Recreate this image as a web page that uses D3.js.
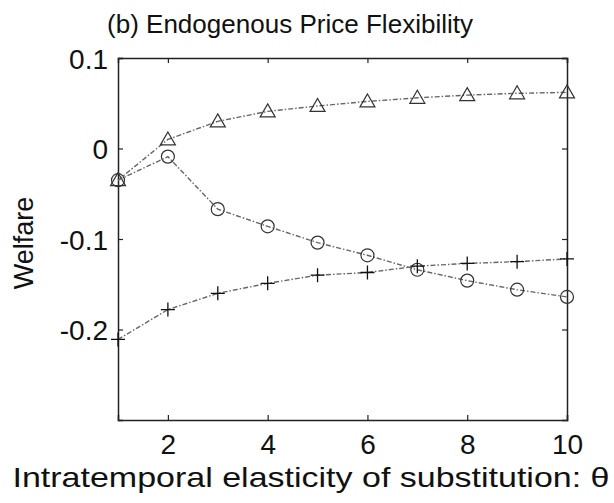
<!DOCTYPE html>
<html>
<head>
<meta charset="utf-8">
<script src="https://cdn.jsdelivr.net/npm/d3@7"></script>
<style>
  html, body { margin: 0; padding: 0; background: #fff; }
  svg { display: block; }
  text { font-family: "Liberation Sans", Arial, sans-serif; fill: #111; }
</style>
</head>
<body>
<svg id="chart" width="614" height="503"></svg>
<script>
// Welfare against the intratemporal elasticity of substitution (theta)
const theta = [1, 2, 3, 4, 5, 6, 7, 8, 9, 10];
const welfareTriangle = [-0.035, 0.010, 0.030, 0.041, 0.047, 0.052, 0.056, 0.059, 0.061, 0.062];
const welfareCircle   = [-0.035, -0.009, -0.067, -0.086, -0.104, -0.118, -0.134, -0.146, -0.156, -0.164];
const welfarePlus     = [-0.211, -0.178, -0.160, -0.149, -0.140, -0.137, -0.130, -0.127, -0.125, -0.122];
const xTicks = [2, 4, 6, 8, 10];
const yTicks = [-0.2, -0.1, 0, 0.1];
const yTickLabels = ["-0.2", "-0.1", "0", "0.1"];

const svg = d3.select("#chart");
const margin = { left: 118, right: 47, top: 58, bottom: 83 };
const W = 614, H = 503;

const x = d3.scaleLinear().domain([1, 10]).range([margin.left, W - margin.right]);
const y = d3.scaleLinear().domain([-0.3, 0.1]).range([H - margin.bottom, margin.top]);

const axisColor = "#222";
const tickLen = 5;
const fmtY = d => yTickLabels[yTicks.indexOf(d)];

// Bottom axis with labels, ticks pointing into the plot
const gx = svg.append("g").attr("transform", `translate(0,${y.range()[0]})`)
  .call(d3.axisBottom(x).tickValues(xTicks).tickSize(-tickLen).tickPadding(13).tickFormat(d3.format("d")));
// Top axis, ticks only
const gxt = svg.append("g").attr("transform", `translate(0,${y.range()[1]})`)
  .call(d3.axisTop(x).tickValues(xTicks).tickSize(-tickLen).tickFormat(""));
// Left axis with labels
const gy = svg.append("g").attr("transform", `translate(${x.range()[0]},0)`)
  .call(d3.axisLeft(y).tickValues(yTicks).tickSize(-tickLen).tickPadding(10).tickFormat(fmtY));
// Right axis, ticks only
const gyr = svg.append("g").attr("transform", `translate(${x.range()[1]},0)`)
  .call(d3.axisRight(y).tickValues(yTicks).tickSize(-tickLen).tickFormat(""));

[gx, gxt, gy, gyr].forEach(g => {
  g.select(".domain").attr("stroke", axisColor).attr("stroke-width", 1.5);
  g.selectAll(".tick line").attr("stroke", axisColor).attr("stroke-width", 1.2);
  g.selectAll(".tick text").attr("font-family", "Liberation Sans, Arial, sans-serif")
    .attr("font-size", 28).attr("fill", "#111");
});
gx.selectAll(".tick text").attr("dy", "0.75em");
gy.selectAll(".tick text").attr("dy", "0.36em");

// Series lines and markers
const series = [
  { values: welfareTriangle, marker: "triangle" },
  { values: welfareCircle, marker: "circle" },
  { values: welfarePlus, marker: "plus" }
];

const line = d3.line().x(d => x(d[0])).y(d => y(d[1]));

const plot = svg.append("g");
series.forEach(s => {
  const pts = theta.map((t, i) => [t, s.values[i]]);
  plot.append("path")
    .datum(pts)
    .attr("d", line)
    .attr("fill", "none")
    .attr("stroke", "#666")
    .attr("stroke-width", 1.4)
    .attr("stroke-dasharray", "5,2,1.5,2");

  const m = plot.append("g").selectAll("g").data(pts).join("g")
    .attr("transform", d => `translate(${x(d[0])},${y(d[1])})`);
  if (s.marker === "circle") {
    m.append("circle").attr("r", 6.5).attr("fill", "none").attr("stroke", "#333").attr("stroke-width", 1.2);
  } else if (s.marker === "triangle") {
    m.append("path").attr("d", "M0,-7.5L7.5,5.5L-7.5,5.5Z").attr("fill", "none").attr("stroke", "#333").attr("stroke-width", 1.2);
  } else {
    m.append("path").attr("d", "M-7,0H7M0,-7V7").attr("fill", "none").attr("stroke", "#111").attr("stroke-width", 1.3);
  }
});

// Titles
svg.append("text")
  .attr("x", 290).attr("y", 33)
  .attr("text-anchor", "middle")
  .attr("font-size", 26)
  .attr("textLength", 366)
  .attr("lengthAdjust", "spacingAndGlyphs")
  .text("(b) Endogenous Price Flexibility");

svg.append("text")
  .attr("transform", "translate(33,243) rotate(-90)")
  .attr("text-anchor", "middle")
  .attr("font-size", 27)
  .text("Welfare");

svg.append("text")
  .attr("x", 311).attr("y", 487)
  .attr("text-anchor", "middle")
  .attr("font-size", 28)
  .attr("textLength", 597)
  .attr("lengthAdjust", "spacingAndGlyphs")
  .text("Intratemporal elasticity of substitution: θ");
</script>
</body>
</html>
